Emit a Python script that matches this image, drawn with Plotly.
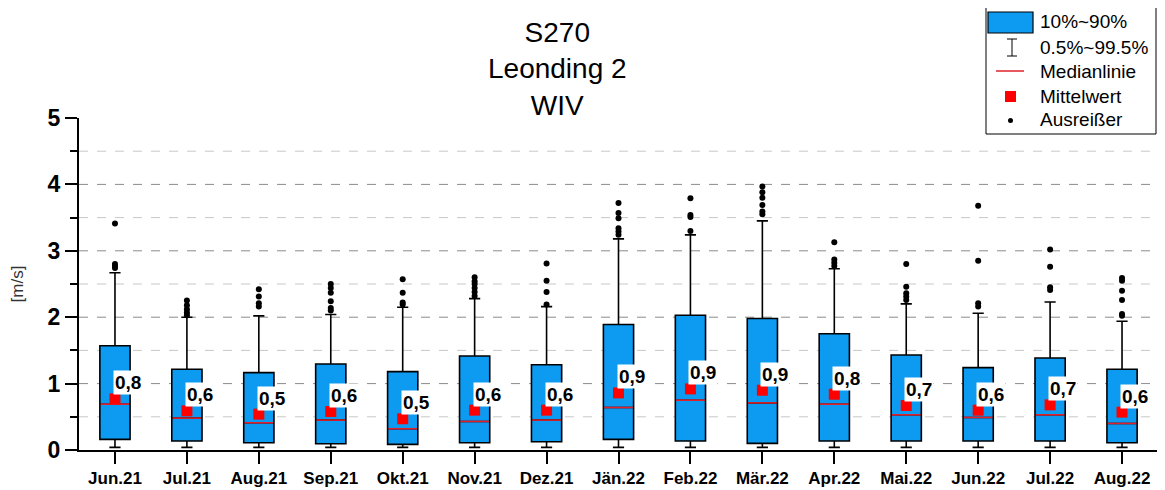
import plotly.graph_objects as go

months = ["Jun.21", "Jul.21", "Aug.21", "Sep.21", "Okt.21", "Nov.21", "Dez.21", "Jän.22",
          "Feb.22", "Mär.22", "Apr.22", "Mai.22", "Jun.22", "Jul.22", "Aug.22"]

p10 = [0.16, 0.135, 0.11, 0.095, 0.085, 0.11, 0.125, 0.16, 0.135, 0.10, 0.135, 0.135, 0.135, 0.135, 0.11]
p90 = [1.57, 1.215, 1.165, 1.295, 1.18, 1.415, 1.285, 1.89, 2.03, 1.98, 1.75, 1.43, 1.24, 1.385, 1.215]
median = [0.69, 0.48, 0.41, 0.45, 0.32, 0.43, 0.45, 0.64, 0.75, 0.71, 0.69, 0.53, 0.49, 0.53, 0.40]
mean = [0.77, 0.59, 0.54, 0.58, 0.47, 0.60, 0.60, 0.86, 0.92, 0.90, 0.84, 0.67, 0.60, 0.68, 0.57]
p005 = [0.04, 0.04, 0.04, 0.04, 0.04, 0.04, 0.04, 0.04, 0.04, 0.04, 0.04, 0.04, 0.04, 0.04, 0.04]
p995 = [2.67, 2.00, 2.02, 2.04, 2.15, 2.28, 2.16, 3.18, 3.24, 3.45, 2.73, 2.20, 2.06, 2.23, 1.94]

outliers = [
    [3.41, 2.80, 2.77, 2.74],
    [2.25, 2.18, 2.12, 2.07, 2.03],
    [2.42, 2.31, 2.21, 2.16],
    [2.50, 2.44, 2.37, 2.24, 2.14, 2.10],
    [2.57, 2.37, 2.22, 2.19],
    [2.60, 2.54, 2.50, 2.44, 2.38, 2.32],
    [2.81, 2.55, 2.38, 2.19],
    [3.72, 3.57, 3.49, 3.34, 3.29, 3.24],
    [3.79, 3.54, 3.51, 3.30],
    [3.97, 3.88, 3.80, 3.69, 3.59, 3.55],
    [3.13, 2.87, 2.82, 2.77],
    [2.80, 2.46, 2.36, 2.31, 2.26],
    [3.68, 2.85, 2.21, 2.16],
    [3.02, 2.76, 2.45, 2.41],
    [2.59, 2.55, 2.40, 2.26, 2.05, 2.02],
]

major_grid = [1, 2, 3, 4]
minor_grid = [0.5, 1.5, 2.5, 3.5, 4.5]

BLUE = "#0D9BF2"
RED = "#FF0000"
FONT = "Liberation Sans, Arial, sans-serif"

# the page puts the figure 8px in from the corner, so work in window pixels and shift
OFF = 8
W, H = 1165 - OFF, 490 - OFF
L, R, T, B = 79 - OFF, 1158 - OFF, 118 - OFF, 450 - OFF
def px(x):
    return (x - OFF - L) / (R - L)
def py(y):
    return (B - (y - OFF)) / (B - T)

fig = go.Figure()

fig.add_trace(go.Box(
    x=months, q1=p10, median=median, q3=p90, lowerfence=p005, upperfence=p995,
    fillcolor=BLUE, line=dict(color="black", width=1.6), width=0.42, whiskerwidth=0.37,
    showlegend=False, hoverinfo="skip"))

# red median line drawn over the box (line-ew is 1.4x the marker size long)
fig.add_trace(go.Scatter(
    x=months, y=median, mode="markers", showlegend=False,
    marker=dict(symbol="line-ew", size=20.5, line=dict(color="#E0202A", width=1.6))))

ox, oy = [], []
for m, vals in zip(months, outliers):
    ox += [m] * len(vals)
    oy += vals
fig.add_trace(go.Scatter(x=ox, y=oy, mode="markers", showlegend=False,
                         marker=dict(color="black", size=6)))

fig.add_trace(go.Scatter(x=months, y=mean, mode="markers", showlegend=False,
                         marker=dict(symbol="square", color=RED, size=11)))

for m, v in zip(months, mean):
    fig.add_annotation(x=m, y=v, text="<b>" + f"{v:.1f}".replace(".", ",") + "</b>",
                       showarrow=False, xanchor="left", yanchor="middle", xshift=-2, yshift=16,
                       bgcolor="white", borderpad=1, font=dict(family=FONT, size=19, color="black"))

shapes = []
for g in major_grid:
    shapes.append(dict(type="line", xref="paper", x0=0, x1=1, y0=g, y1=g, layer="below",
                       line=dict(color="#8a8a8a", width=1, dash="dash")))
for g in minor_grid:
    shapes.append(dict(type="line", xref="paper", x0=0, x1=1, y0=g, y1=g, layer="below",
                       line=dict(color="#c8c8c8", width=1, dash="dash")))

# legend box
shapes.append(dict(type="rect", xref="paper", yref="paper", x0=px(986), x1=px(1156), y0=py(134), y1=py(3),
                   line=dict(color="black", width=1), fillcolor="white"))
shapes.append(dict(type="rect", xref="paper", yref="paper", x0=px(988), x1=px(1033), y0=py(33), y1=py(12),
                   line=dict(color="black", width=1.2), fillcolor=BLUE))
shapes.append(dict(type="line", xref="paper", yref="paper", x0=px(1012), x1=px(1012), y0=py(39), y1=py(56),
                   line=dict(color="black", width=1)))
for yy in (39, 56):
    shapes.append(dict(type="line", xref="paper", yref="paper", x0=px(1007), x1=px(1017), y0=py(yy), y1=py(yy),
                       line=dict(color="black", width=1)))
shapes.append(dict(type="line", xref="paper", yref="paper", x0=px(996), x1=px(1024), y0=py(71), y1=py(71),
                   line=dict(color="#E0202A", width=1.5)))
shapes.append(dict(type="rect", xref="paper", yref="paper", x0=px(1005), x1=px(1016), y0=py(102), y1=py(91),
                   line=dict(width=0), fillcolor=RED))
shapes.append(dict(type="circle", xref="paper", yref="paper", x0=px(1008), x1=px(1013), y0=py(123), y1=py(118),
                   line=dict(width=0), fillcolor="black"))

legend_items = ["10%~90%", "0.5%~99.5%", "Medianlinie", "Mittelwert", "Ausreißer"]
for txt, yy in zip(legend_items, [22, 47, 71, 96, 120]):
    fig.add_annotation(xref="paper", yref="paper", x=px(1038), y=py(yy), text=txt, showarrow=False,
                       xanchor="left", yanchor="middle", font=dict(family=FONT, size=19, color="black"))

fig.add_annotation(xref="paper", yref="paper", x=px(557), y=py(69), text="S270<br>Leonding 2<br>WIV",
                   showarrow=False, xanchor="center", yanchor="middle",
                   font=dict(family=FONT, size=28, color="black"))

fig.update_layout(
    width=W, height=H, margin=dict(l=L, r=W - R, t=T, b=H - B),
    plot_bgcolor="white", paper_bgcolor="white", shapes=shapes, showlegend=False,
    font=dict(family=FONT, color="black"))

fig.update_xaxes(type="category", range=[-0.5, 14.5], showline=True, linecolor="black", linewidth=2,
                 ticks="outside", ticklen=12, tickwidth=2, tickcolor="black", showgrid=False, automargin=False,
                 tickfont=dict(family=FONT, size=17, color="black", weight="bold"))
fig.update_yaxes(range=[0, 5], dtick=1, showline=True, linecolor="black", linewidth=2, automargin=False,
                 ticks="outside", ticklen=12, tickwidth=2, tickcolor="black", showgrid=False, zeroline=False,
                 minor=dict(dtick=0.5, ticks="outside", ticklen=7, tickwidth=1.5, tickcolor="black", showgrid=False),
                 tickfont=dict(family=FONT, size=23, color="black", weight="bold"),
                 title=dict(text="[m/s]", standoff=20, font=dict(family=FONT, size=17, color="#333333")))

fig.write_html("out.html")
